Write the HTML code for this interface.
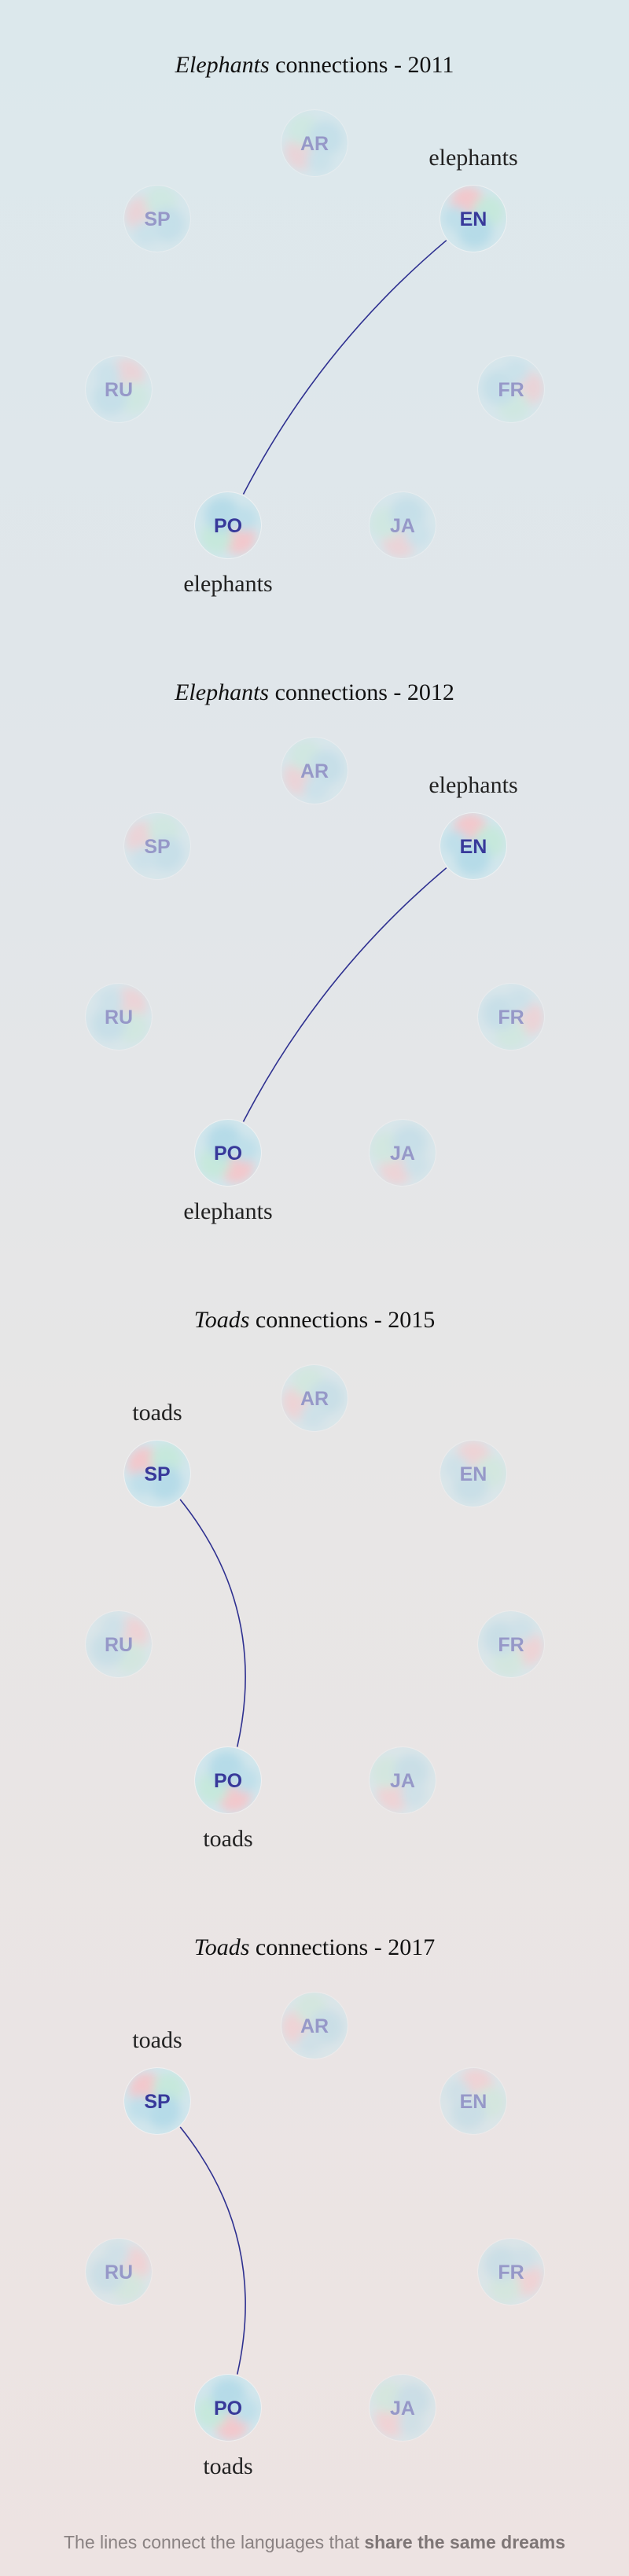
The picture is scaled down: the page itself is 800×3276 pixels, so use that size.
<!DOCTYPE html>
<html><head><meta charset="utf-8">
<style>
html,body{margin:0;padding:0}
body{width:800px;height:3276px;background:linear-gradient(180deg,#dce8ec 0%,#e1e6ea 30%,#e7e6e6 55%,#ede3e2 100%);position:relative;overflow:hidden}
svg{position:absolute;left:0;top:0}
.title{font-family:"Liberation Serif",serif;font-size:30px;fill:#111}
.lab{font-family:"Liberation Serif",serif;font-size:30px;fill:#222}
.code{font-family:"Liberation Sans",sans-serif;font-weight:bold;font-size:25px}
.foot{font-family:"Liberation Sans",sans-serif;font-size:23px;fill:#8a8282}
</style></head>
<body>
<svg id="chart" width="800" height="3276">
<defs>
<filter id="soft" x="-50%" y="-50%" width="200%" height="200%"><feGaussianBlur stdDeviation="6"/></filter>
<clipPath id="cc"><circle cx="0" cy="0" r="42"/></clipPath>
</defs>
<text class="foot" x="400" y="3241" text-anchor="middle">The lines connect the languages that <tspan font-weight="bold" fill="#7e7676">share the same dreams</tspan></text>
</svg>
<script>
const langs = ["AR","SP","EN","RU","FR","PO","JA"];
const langX = [400,200,602,151,650,290,512];
const langY = [182,278,278,495,495,668,668];
const titleWords = ["Elephants","Elephants","Toads","Toads"];
const years = ["2011","2012","2015","2017"];
const wordLabels = ["elephants","elephants","toads","toads"];
const linkFrom = ["EN","EN","SP","SP"];
const linkTo = ["PO","PO","PO","PO"];
const linkBend = [60,60,120,120];
const panelTop = [0,798,1596,2394];

const NS="http://www.w3.org/2000/svg";
const svg=document.getElementById('chart');
function mk(t,a,p){const e=document.createElementNS(NS,t);for(const k in a)e.setAttribute(k,a[k]);(p||svg).appendChild(e);return e;}

for(let p=0;p<panelTop.length;p++){
  const oy=panelTop[p];
  const g=mk('g',{transform:`translate(0,${oy})`});
  
  
  const t=mk('text',{class:'title',x:400,y:92,'text-anchor':'middle'},g);
  
  
  const ts=mk('tspan',{'font-style':'italic'},t);ts.textContent=titleWords[p];
  const ts2=mk('tspan',{},t);ts2.textContent=' connections - '+years[p];
  const active=[linkFrom[p],linkTo[p]];
  langs.forEach((l,i)=>{
    const on=active.includes(l);
    const ng=mk('g',{transform:`translate(${langX[i]},${langY[i]}) rotate(${i*53+p*10})`},g);
    
    
    const inner=mk('g',{opacity:on?1:0.6},ng);
    mk('circle',{r:43,fill:'#f1f3f5',opacity:0.7},inner);
    const b=mk('g',{'clip-path':'url(#cc)'},inner);
    mk('circle',{r:42,fill:'#d2e6ec'},b);
    const bl=mk('g',{filter:'url(#soft)'},b);
    mk('circle',{cx:-16,cy:12,r:22,fill:'#f2c8cc'},bl);
    mk('circle',{cx:-14,cy:-16,r:20,fill:'#c6e8dc'},bl);
    mk('circle',{cx:14,cy:-6,r:22,fill:'#b6dbe8'},bl);
    mk('circle',{cx:6,cy:22,r:16,fill:'#bfdfea'},bl);
    const tx=mk('text',{class:'code',x:langX[i],y:langY[i]+9,'text-anchor':'middle',fill:on?'#38399a':'#9698c8'},g);
    
    
    tx.textContent=l;
  });
  const a=langs.indexOf(linkFrom[p]),b=langs.indexOf(linkTo[p]);
  const x1=langX[a],y1=langY[a],x2=langX[b],y2=langY[b];
  const mx=(x1+x2)/2,my=(y1+y2)/2;
  const dx=x2-x1,dy=y2-y1,L=Math.hypot(dx,dy);
  let nx=-dy/L,ny=dx/L;
  if((400-mx)*nx+(430-my)*ny<0){nx=-nx;ny=-ny;}
  const cx=mx+nx*linkBend[p],cy=my+ny*linkBend[p];
  const path=mk('path',{d:`M${x1},${y1} Q${cx},${cy} ${x2},${y2}`,fill:'none',stroke:'#2e3090','stroke-width':1.6},g);
  
  
  const tl=path.getTotalLength();
  path.setAttribute('stroke-dasharray',`0 44 ${tl-88} 100`);
  [a,b].forEach(i=>{
    const above=langY[i]<400;
    const w=mk('text',{class:'lab',x:langX[i],y:above?langY[i]-68:langY[i]+84,'text-anchor':'middle'},g);
    
    
    w.textContent=wordLabels[p];
  });
}
</script>
</body></html>
